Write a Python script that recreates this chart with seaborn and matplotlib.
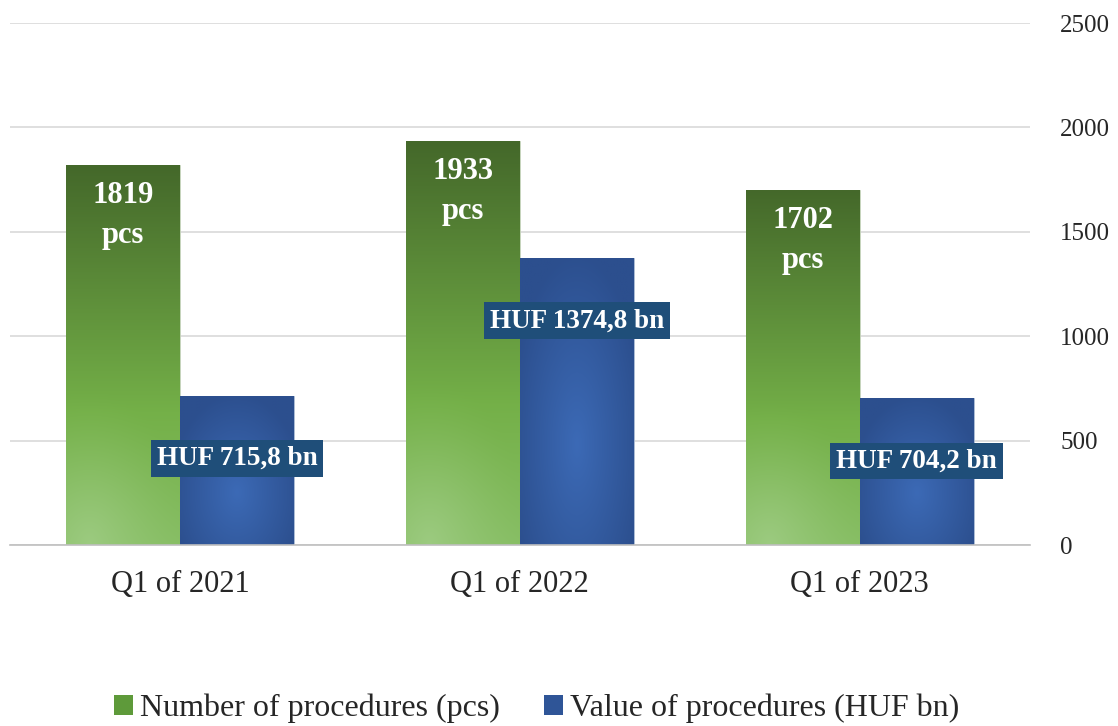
import matplotlib
matplotlib.use("Agg")
import matplotlib.pyplot as plt
import matplotlib.patches as mpatches
import numpy as np
import pandas as pd
import seaborn as sns

# data
quarters = ["Q1 of 2021", "Q1 of 2022", "Q1 of 2023"]
procedures_pcs = [1819, 1933, 1702]
value_huf_bn = [715.8, 1374.8, 704.2]
pcs_labels = ["1819\npcs", "1933\npcs", "1702\npcs"]
huf_labels = ["HUF 715,8 bn", "HUF 1374,8 bn", "HUF 704,2 bn"]
series_names = ["Number of procedures (pcs)", "Value of procedures (HUF bn)"]

df = pd.DataFrame({
    "quarter": quarters * 2,
    "value": procedures_pcs + value_huf_bn,
    "series": [series_names[0]] * 3 + [series_names[1]] * 3,
})

sns.set_style("white")
plt.rcParams["font.family"] = ["Liberation Serif", "DejaVu Serif"]

fig = plt.figure(figsize=(11.18, 7.26), dpi=100)
ax = fig.add_axes([0.009, 0.2493, 0.912, 0.719])

sns.barplot(data=df, x="quarter", y="value", hue="series",
            palette=["#6FA646", "#2F5597"], width=0.67, gap=0,
            legend=False, ax=ax, zorder=2)


def green_img():
    h, w = 200, 60
    yy, xx = np.mgrid[0:1:h * 1j, 0:1:w * 1j]  # yy 0 = top
    t = yy
    top = np.array([68, 104, 42]) / 255
    mid = np.array([116, 176, 72]) / 255
    bot = np.array([135, 190, 100]) / 255
    img = np.zeros((h, w, 3))
    for c in range(3):
        img[..., c] = np.where(t < 0.65, top[c] + (mid[c] - top[c]) * t / 0.65,
                               mid[c] + (bot[c] - mid[c]) * (t - 0.65) / 0.35)
    d = np.sqrt((xx - 0.2) ** 2 + ((1 - yy) * 2.2) ** 2)
    glow = np.clip(1 - d / 0.9, 0, 1) ** 1.5
    light = np.array([165, 208, 140]) / 255
    img = img * (1 - glow[..., None] * 0.7) + light * glow[..., None] * 0.7
    return img


def blue_img():
    h, w = 200, 60
    yy, xx = np.mgrid[0:1:h * 1j, 0:1:w * 1j]
    d = np.sqrt((xx - 0.5) ** 2 + ((yy - 0.65) * 0.9) ** 2)
    t = np.clip(d / 0.6, 0, 1)
    centre = np.array([60, 106, 182]) / 255
    edge = np.array([44, 79, 142]) / 255
    return centre + (edge - centre) * t[..., None]


imgs = [green_img(), blue_img()]
bars = list(ax.patches)
for i, p in enumerate(bars):
    k = i // 3
    x0, y0 = p.get_x(), p.get_y()
    im = ax.imshow(imgs[k], extent=[x0, x0 + p.get_width(), y0, y0 + p.get_height()],
                   aspect="auto", zorder=2.5, interpolation="bilinear")
    im.set_clip_path(p)
    p.set_edgecolor("#C9D6C0" if k == 0 else "#AFC0D8")
    p.set_linewidth(0.6)

ax.set_xlim(-0.5, 2.5)
ax.set_ylim(0, 2500)
ax.set_yticks(np.arange(0, 2501, 500))
ax.yaxis.tick_right()
ax.tick_params(axis="y", length=0, pad=22, labelsize=18, labelcolor="#262626")
ax.tick_params(axis="x", length=0, pad=18, labelsize=22, labelcolor="#262626")
ax.set_xticks([-0.5, 0.5, 1.5, 2.5], minor=True)
ax.tick_params(axis="x", which="minor", length=6, color="#BFBFBF", width=1)
ax.grid(axis="y", color="#D9D9D9", linewidth=1.2, zorder=0)
ax.set_axisbelow(True)
ax.set_xlabel("")
ax.set_ylabel("")
for s in ["top", "left", "right"]:
    ax.spines[s].set_visible(False)
ax.spines["bottom"].set_color("#BFBFBF")
ax.spines["bottom"].set_linewidth(1.2)

green_bars = bars[:3]
blue_bars = bars[3:]
for p, lab in zip(green_bars, pcs_labels):
    ax.annotate(lab, (p.get_x() + p.get_width() / 2, p.get_height()),
                xytext=(0, -16), textcoords="offset pixels", ha="center", va="top",
                color="white", fontsize=22, fontweight="bold", linespacing=1.5, zorder=5)
for p, lab in zip(blue_bars, huf_labels):
    ax.annotate(lab, (p.get_x() + p.get_width() / 2, p.get_height()),
                xytext=(0, -63), textcoords="offset pixels", ha="center", va="center",
                color="white", fontsize=19.5, fontweight="bold", zorder=5,
                bbox=dict(boxstyle="square,pad=0.22", fc="#1F4E79", ec="none"))

handles = [mpatches.Patch(facecolor="#5E9A3A", edgecolor="none"),
           mpatches.Patch(facecolor="#2F5597", edgecolor="none")]
fig.legend(handles, series_names, loc="center", bbox_to_anchor=(0.48, 0.024),
           ncol=2, frameon=False, fontsize=23, handlelength=0.6, handleheight=0.6,
           handletextpad=0.2, columnspacing=1.4)

fig.savefig("out.png", dpi=100)
